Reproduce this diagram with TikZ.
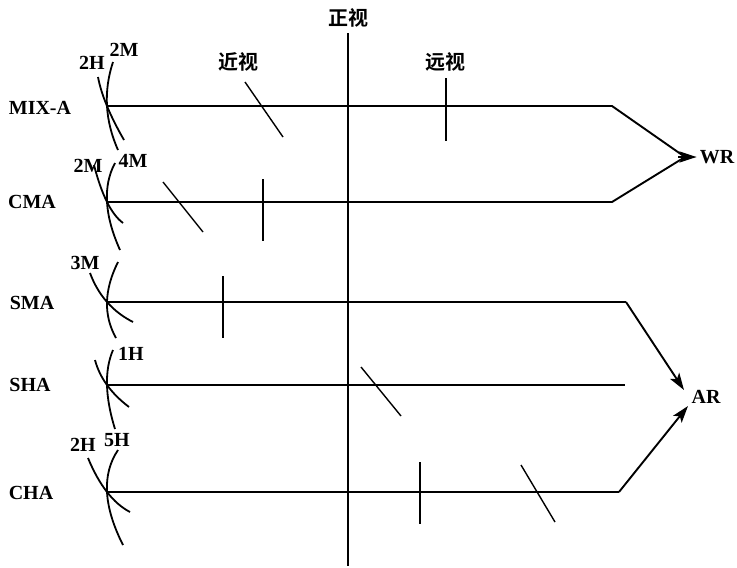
\documentclass[tikz,border=0pt]{standalone}
\usepackage{fontspec}
\setmainfont{Liberation Serif}
\newfontfamily\cjk{Noto Sans CJK SC}[BoldFont={Noto Sans CJK SC Bold}]
\usetikzlibrary{arrows.meta}
\begin{document}
\begin{tikzpicture}[x=1pt,y=-1pt,
  lbl/.style={font=\fontsize{20}{20}\selectfont\bfseries, inner sep=0pt},
  zh/.style={font=\cjk\fontsize{20}{20}\selectfont\bfseries, inner sep=0pt},
  axisline/.style={line width=2.3pt},
  rowline/.style={line width=1.9pt},
  tickline/.style={line width=1.4pt},
  arcline/.style={line width=1.8pt},
  >={Stealth[length=17pt,width=11pt,inset=4pt]},
  tip/.style={->}]
\useasboundingbox (0,0) rectangle (737,568);

% central vertical axis
\node[zh] (zheng) at (348,18) {正视};
\coordinate (axT) at (348,33);
\coordinate (axB) at (348,566);
\draw[axisline] (axT) -- (axB);
\node[zh] (jin) at (238,62) {近视};
\node[zh] (yuan) at (445,62) {远视};

% row labels
\node[lbl] (mixa) at (40,108) {MIX-A};
\node[lbl] (cma) at (32,202) {CMA};
\node[lbl] (sma) at (32,303) {SMA};
\node[lbl] (sha) at (30,385) {SHA};
\node[lbl] (cha) at (31,493) {CHA};
\node[lbl] (WR) at (717,157) {WR};
\node[lbl] (AR) at (706,397) {AR};

% arc labels
\node[lbl] (l1a) at (92,63) {2H};
\node[lbl] (l1b) at (124,50) {2M};
\node[lbl] (l2a) at (88,166) {2M};
\node[lbl] (l2b) at (133,161) {4M};
\node[lbl] (l3a) at (85,263) {3M};
\node[lbl] (l4b) at (131,354) {1H};
\node[lbl] (l5a) at (83,445) {2H};
\node[lbl] (l5b) at (117,440) {5H};

% junctions and ends
\coordinate (j1) at (107,106);
\coordinate (j2) at (107,202);
\coordinate (j3) at (107,302);
\coordinate (j4) at (107,385);
\coordinate (j5) at (107,492);
\coordinate (e1) at (612,106);
\coordinate (e2) at (612,202);
\coordinate (e3) at (626,302);
\coordinate (e4) at (625,385);
\coordinate (e5) at (619,492);
\coordinate (wr) at (685,157);
\coordinate (wrs) at (678,157);
\coordinate (ar1) at (684,390);
\coordinate (ar2) at (688,406);

% rows
\draw[rowline] (j1) -- (e1) -- (wr);
\draw[rowline] (j2) -- (e2) -- (wr);
\draw[rowline,tip] (wrs) -- ([xshift=-3pt]WR.west);
\draw[rowline] (j3) -- (e3);
\draw[rowline,tip] (e3) -- (ar1);
\draw[rowline] (j4) -- (e4);
\draw[rowline] (j5) -- (e5);
\draw[rowline,tip] (e5) -- (ar2);

% arcs
\draw[arcline] (113,62) .. controls (103.3,91.3) and (105,120.7) .. (118,150);
\draw[arcline] (98,77) .. controls (101.3,94.7) and (110,115.7) .. (124,140);
\draw[arcline] (115,163) .. controls (102.7,186) and (104.3,215) .. (120,250);
\draw[arcline] (94,165) .. controls (101.7,195) and (111.3,214.3) .. (123,223);
\draw[arcline] (118,262) .. controls (104,290) and (103.3,315.3) .. (116,338);
\draw[arcline] (90,273) .. controls (98.3,295.3) and (112.7,311.7) .. (133,322);
\draw[arcline] (113,350) .. controls (104.3,370.3) and (105,396.7) .. (115,429);
\draw[arcline] (95,360) .. controls (99.7,377.7) and (111,393.3) .. (129,407);
\draw[arcline] (118,450) .. controls (101.7,474.3) and (103.3,506) .. (123,545);
\draw[arcline] (88,458) .. controls (99.3,485.3) and (113.3,503.3) .. (130,512);

% tick marks
\draw[tickline] (245,82) -- (283,137);
\draw[tickline] (446,78) -- (446,141);
\draw[tickline] (163,182) -- (203,232);
\draw[tickline] (263,179) -- (263,241);
\draw[tickline] (223,276) -- (223,338);
\draw[tickline] (361,367) -- (401,416);
\draw[tickline] (420,462) -- (420,524);
\draw[tickline] (521,465) -- (555,522);
\end{tikzpicture}
\end{document}
